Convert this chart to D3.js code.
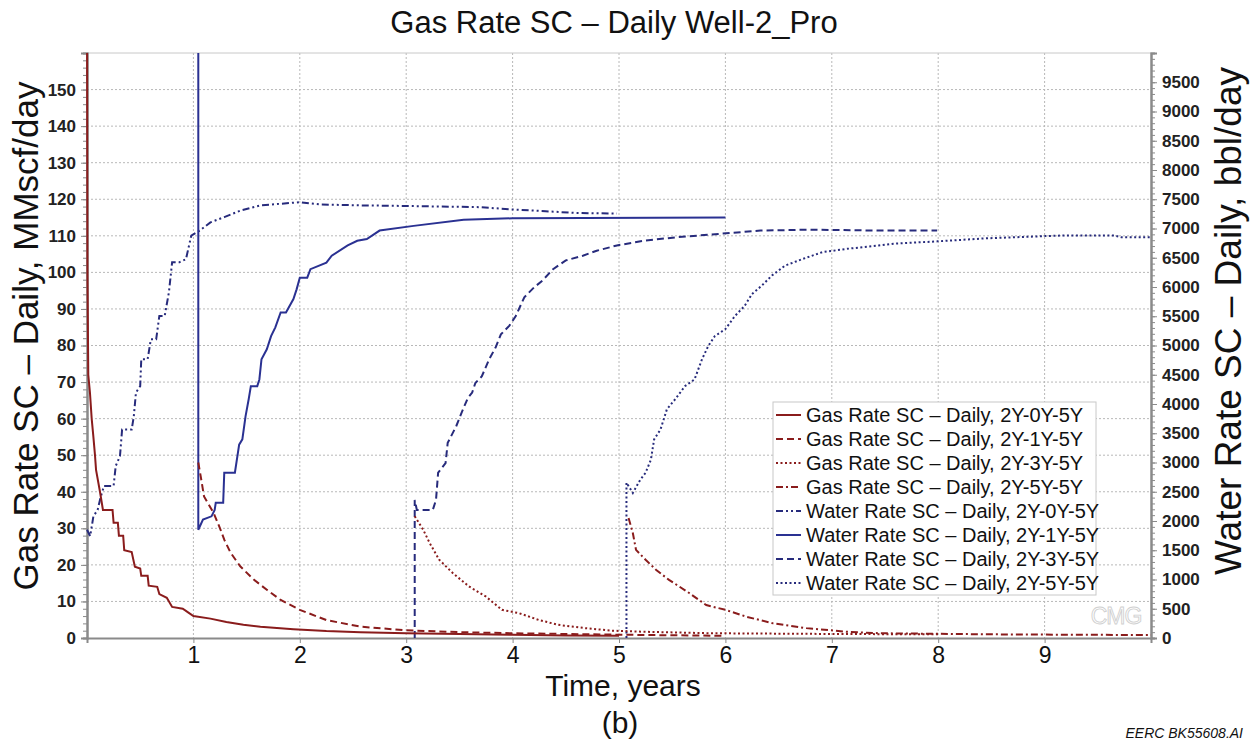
<!DOCTYPE html>
<html><head><meta charset="utf-8">
<script src="https://cdn.jsdelivr.net/npm/d3@7"></script>
<style>body{margin:0;background:#fff;} svg{display:block;font-family:"Liberation Sans",Arial,sans-serif;}</style>
</head><body><svg id="c" width="1257" height="744"></svg>
<script>
// ---- data ----
const title = "Gas Rate SC \u2013 Daily Well-2_Pro";
const xTicks = [1,2,3,4,5,6,7,8,9];
const gasTicks = [0,10,20,30,40,50,60,70,80,90,100,110,120,130,140,150];
const waterTicks = [0,500,1000,1500,2000,2500,3000,3500,4000,4500,5000,5500,6000,6500,7000,7500,8000,8500,9000,9500];
const seriesNames = ["Gas Rate SC \u2013 Daily, 2Y-0Y-5Y","Gas Rate SC \u2013 Daily, 2Y-1Y-5Y","Gas Rate SC \u2013 Daily, 2Y-3Y-5Y","Gas Rate SC \u2013 Daily, 2Y-5Y-5Y","Water Rate SC \u2013 Daily, 2Y-0Y-5Y","Water Rate SC \u2013 Daily, 2Y-1Y-5Y","Water Rate SC \u2013 Daily, 2Y-3Y-5Y","Water Rate SC \u2013 Daily, 2Y-5Y-5Y"];
// [years, MMscf/day]
const gas0 = [[0,175],[0.004,100],[0.012,72],[0.028,67],[0.044,60],[0.06,55],[0.075,50],[0.085,46],[0.122,40],[0.15,35],[0.24,35],[0.25,31.5],[0.29,31.5],[0.3,28],[0.34,28],[0.35,24],[0.42,23.5],[0.45,19.5],[0.5,19],[0.51,17],[0.57,17],[0.58,14.3],[0.66,14],[0.68,12],[0.75,11],[0.8,8.5],[0.9,8],[0.95,7],[1.0,6],[1.16,5.3],[1.31,4.4],[1.47,3.6],[1.63,3.1],[1.94,2.4],[2.25,1.9],[2.57,1.6],[3.0,1.3],[3.5,1.1],[4.0,0.9],[4.5,0.7],[5.0,0.6]];
const gas1 = [[1.046,48],[1.07,44],[1.1,38.7],[1.19,34.2],[1.25,30],[1.29,26.9],[1.35,23.3],[1.44,19.6],[1.57,15.9],[1.69,13.2],[1.82,10.4],[2.0,7.7],[2.25,4.9],[2.57,3.1],[3.0,2.1],[3.5,1.6],[4.0,1.3],[5.0,0.9],[6.0,0.6]];
const gas3 = [[3.08,33.3],[3.16,29.6],[3.22,26],[3.31,21.4],[3.44,17.7],[3.59,14.1],[3.75,11.3],[3.9,7.7],[4.06,6.8],[4.25,4.9],[4.43,3.6],[4.68,2.7],[4.94,2.0],[5.25,1.7],[5.87,1.3],[7.0,1.1],[8.0,1.0]];
const gas5 = [[5.09,32.8],[5.13,28.7],[5.16,24.1],[5.25,21.4],[5.35,18.6],[5.47,15.9],[5.66,12.3],[5.82,9.0],[6.0,7.7],[6.2,5.8],[6.45,4.0],[6.76,2.7],[7.14,1.7],[7.45,1.3],[8.5,1.0],[10.0,0.8]];
// [years, bbl/day]
const water0 = [[0,1850],[0.03,1740],[0.06,2080],[0.1,2190],[0.13,2420],[0.16,2600],[0.25,2600],[0.27,2940],[0.31,3110],[0.33,3565],[0.42,3565],[0.44,3790],[0.46,4195],[0.5,4305],[0.51,4765],[0.57,4765],[0.6,5105],[0.65,5105],[0.68,5505],[0.73,5505],[0.77,5910],[0.8,6425],[0.87,6425],[0.93,6475],[0.98,6880],[1.06,6965],[1.16,7105],[1.29,7195],[1.44,7305],[1.63,7395],[2.0,7450],[2.2,7410],[2.58,7395],[3.0,7385],[3.69,7365],[4.0,7325],[4.31,7295],[4.6,7265],[4.98,7255]];
const water1 = [[1.046,11000],[1.046,1850],[1.09,2025],[1.17,2080],[1.2,2190],[1.21,2310],[1.28,2310],[1.29,2825],[1.39,2825],[1.43,3305],[1.46,3395],[1.49,3790],[1.52,4085],[1.54,4305],[1.6,4305],[1.62,4420],[1.64,4765],[1.69,4935],[1.73,5160],[1.77,5310],[1.82,5565],[1.87,5565],[1.94,5795],[1.97,5960],[2.0,6160],[2.07,6160],[2.1,6305],[2.25,6415],[2.3,6535],[2.45,6710],[2.54,6790],[2.63,6820],[2.75,6965],[3.07,7045],[3.54,7150],[4.0,7175],[6.0,7190]];
const water3 = [[3.08,0],[3.08,2360],[3.1,2190],[3.25,2190],[3.28,2360],[3.3,2825],[3.37,2990],[3.39,3335],[3.47,3620],[3.52,3850],[3.58,4105],[3.62,4195],[3.65,4360],[3.71,4470],[3.78,4765],[3.84,4965],[3.89,5190],[3.97,5340],[4.03,5505],[4.11,5825],[4.2,5990],[4.28,6110],[4.38,6305],[4.5,6455],[4.66,6535],[4.79,6620],[4.98,6710],[5.23,6790],[5.54,6850],[5.95,6910],[6.33,6965],[6.8,6980],[7.43,6965],[7.99,6965]];
const water5 = [[5.07,0],[5.07,2655],[5.13,2480],[5.2,2705],[5.25,2825],[5.3,3050],[5.33,3395],[5.39,3565],[5.45,3910],[5.53,4085],[5.62,4305],[5.71,4420],[5.78,4765],[5.84,4995],[5.9,5160],[6.0,5280],[6.09,5505],[6.18,5675],[6.25,5880],[6.34,6020],[6.44,6200],[6.56,6365],[6.72,6475],[6.91,6595],[7.13,6650],[7.44,6710],[7.58,6740],[7.99,6780],[8.43,6830],[9.0,6870],[9.16,6880],[9.66,6880],[9.72,6850],[10.0,6850]];

// ---- layout ----
const L=87, R=1151, T=53, B=638;
const svg=d3.select("#c");
const x=d3.scaleLinear().domain([0,10]).range([L,R]);
const yG=d3.scaleLinear().domain([0,160]).range([B,T]);
const yW=d3.scaleLinear().domain([0,10000]).range([B,T]);
const red="#8a1c1c", blue="#272b7c", blue2="#2a3192";

// grid
const grid=svg.append("g").attr("stroke","#b8b8b8").attr("stroke-width",1).attr("stroke-dasharray","2,2");
gasTicks.filter(d=>d>0).forEach(d=>grid.append("line").attr("x1",L).attr("x2",R).attr("y1",yG(d)).attr("y2",yG(d)));
xTicks.forEach(d=>grid.append("line").attr("x1",x(d)).attr("x2",x(d)).attr("y1",T).attr("y2",B));
svg.append("line").attr("x1",L).attr("x2",R).attr("y1",T).attr("y2",T).attr("stroke","#c8c8c8").attr("stroke-width",1);

// CMG watermark
svg.append("text").attr("x",1116).attr("y",624).attr("text-anchor","middle").attr("font-size",23).attr("fill","none").attr("stroke","#d0d0d0").attr("stroke-width",0.9).attr("letter-spacing",-1).text("CMG");

// axes (drawn before lines so lines sit on top)
const fmt=d3.format("d");
const axL=d3.axisLeft(yG).tickValues(d3.range(0,161,2)).tickSize(4).tickFormat("");
const gL=svg.append("g").attr("transform",`translate(${L},0)`).call(axL);
const axL2=d3.axisLeft(yG).tickValues(gasTicks).tickSize(6).tickPadding(5).tickFormat(fmt);
const gL2=svg.append("g").attr("transform",`translate(${L},0)`).call(axL2);
gL2.selectAll("text").attr("font-size",17).attr("font-weight","bold").attr("fill","#222").attr("font-family","Liberation Sans, Arial");
const axR=d3.axisRight(yW).tickValues(d3.range(0,10001,100)).tickSize(4).tickFormat("");
const gR=svg.append("g").attr("transform",`translate(${R},0)`).call(axR);
const axR2=d3.axisRight(yW).tickValues(waterTicks).tickSize(6).tickPadding(5).tickFormat(fmt);
const gR2=svg.append("g").attr("transform",`translate(${R},0)`).call(axR2);
gR2.selectAll("text").attr("font-size",17).attr("font-weight","bold").attr("fill","#222").attr("font-family","Liberation Sans, Arial");
const axB=d3.axisBottom(x).tickValues(xTicks).tickSize(5).tickPadding(4).tickFormat(fmt);
const gB=svg.append("g").attr("transform",`translate(0,${B})`).call(axB);
gB.selectAll("text").attr("font-size",23).attr("fill","#111").attr("font-family","Liberation Sans, Arial");
[gL,gL2,gR,gR2,gB].forEach(g=>{g.select(".domain").attr("stroke","#8a8a8a").attr("stroke-width",2);g.selectAll(".tick line").attr("stroke","#8a8a8a");});

// clip
svg.append("defs").append("clipPath").attr("id","clip").append("rect").attr("x",L-2).attr("y",T).attr("width",R-L+2).attr("height",B-T);
const plot=svg.append("g").attr("clip-path","url(#clip)");

const styles=[
 {d:gas0,y:yG,c:red,dash:null},
 {d:gas1,y:yG,c:red,dash:"7,4"},
 {d:gas3,y:yG,c:red,dash:"2,2.5"},
 {d:gas5,y:yG,c:red,dash:"7,3,2,3"},
 {d:water0,y:yW,c:blue,dash:"7,3,2,3,2,3"},
 {d:water1,y:yW,c:blue2,dash:null},
 {d:water3,y:yW,c:blue,dash:"7,4"},
 {d:water5,y:yW,c:blue,dash:"2,2.5"}
];
const drawOrder=[4,5,6,7,0,1,2,3];
drawOrder.forEach(i=>{const s=styles[i];
 const line=d3.line().x(p=>x(p[0])).y(p=>s.y(p[1]));
 plot.append("path").attr("d",line(s.d)).attr("fill","none").attr("stroke",s.c).attr("stroke-width",2)
   .attr("stroke-dasharray",s.dash).attr("stroke-linejoin","miter");
});

// titles
svg.append("text").attr("x",614).attr("y",33).attr("text-anchor","middle").attr("font-size",31).attr("fill","#111").text(title);
svg.append("text").attr("transform","translate(38,336) rotate(-90)").attr("text-anchor","middle").attr("font-size",35).attr("fill","#111").text("Gas Rate SC \u2013 Daily, MMscf/day");
svg.append("text").attr("transform","translate(1241,321) rotate(-90)").attr("text-anchor","middle").attr("font-size",37).attr("fill","#111").text("Water Rate SC \u2013 Daily, bbl/day");
svg.append("text").attr("x",623).attr("y",696).attr("text-anchor","middle").attr("font-size",30).attr("fill","#111").text("Time, years");
svg.append("text").attr("x",620).attr("y",733).attr("text-anchor","middle").attr("font-size",30).attr("fill","#111").text("(b)");
svg.append("text").attr("x",1243).attr("y",738).attr("text-anchor","end").attr("font-size",14).attr("font-style","italic").attr("fill","#111").text("EERC BK55608.AI");

// legend
const lg=svg.append("g");
lg.append("rect").attr("x",773).attr("y",402).attr("width",323).attr("height",193).attr("fill","#fff").attr("stroke","#c8c8c8");
seriesNames.forEach((n,i)=>{const yy=415+i*24; const s=styles[i];
 lg.append("line").attr("x1",776).attr("x2",801).attr("y1",yy).attr("y2",yy).attr("stroke",s.c).attr("stroke-width",2).attr("stroke-dasharray",s.dash);
 lg.append("text").attr("x",806).attr("y",yy+7).attr("font-size",20).attr("fill","#111").text(n);
});
</script></body></html>
